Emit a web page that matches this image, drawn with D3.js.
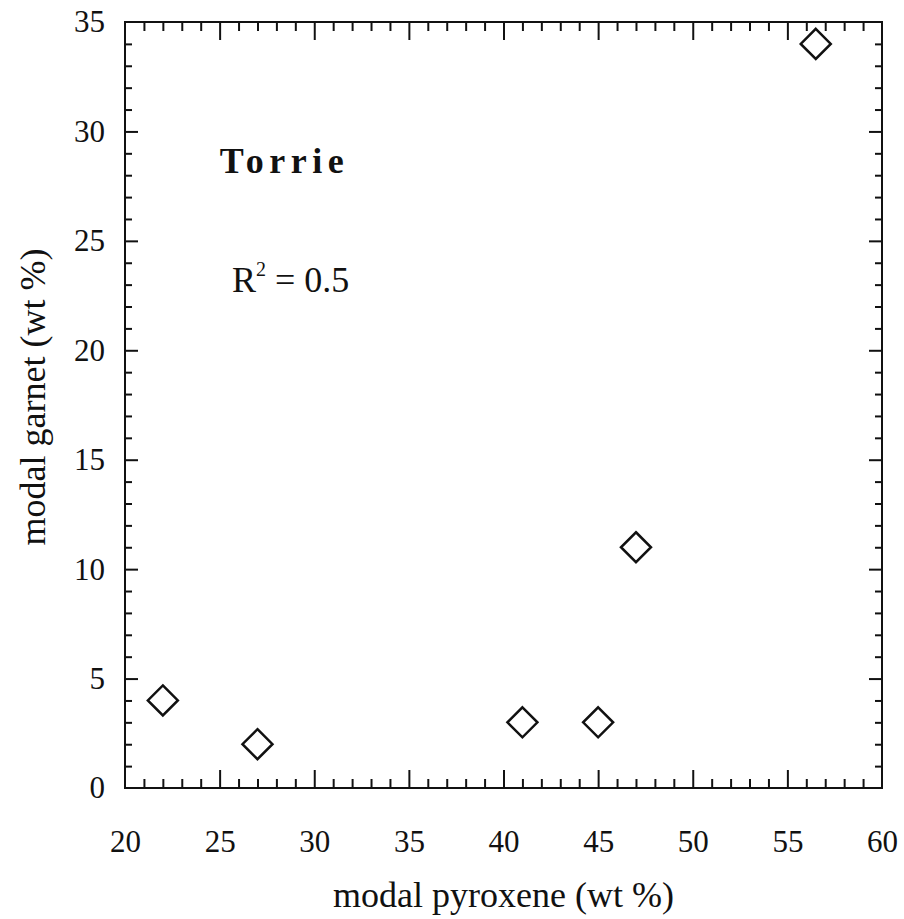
<!DOCTYPE html>
<html>
<head>
<meta charset="utf-8">
<script src="https://cdn.jsdelivr.net/npm/d3@7"></script>
<style>
  html, body { margin: 0; padding: 0; background: #fff; }
  svg { display: block; }
  text, tspan { font-family: "Liberation Serif", "Times New Roman", serif; fill: #111; }
</style>
</head>
<body>
<svg id="chart" width="904" height="919"></svg>
<script>
// Modal mineralogy, Torrie samples
const pyroxene = [22, 27, 41, 45, 47, 56.5];
const garnet   = [4, 2, 3, 3, 11, 34];

const xMajorTicks = [20, 25, 30, 35, 40, 45, 50, 55, 60];
const yMajorTicks = [0, 5, 10, 15, 20, 25, 30, 35];
const xMinorTicks = d3.range(21, 60).filter(v => v % 5 !== 0);
const yMinorTicks = d3.range(1, 35).filter(v => v % 5 !== 0);

const xTitle = "modal pyroxene (wt %)";
const yTitle = "modal garnet (wt %)";
const siteLabel = "Torrie";

const svg = d3.select("#chart");
const W = 904, H = 919;
const m = { left: 125, right: 22, top: 22, bottom: 131 };
const x = d3.scaleLinear().domain([20, 60]).range([m.left, W - m.right]);
const y = d3.scaleLinear().domain([0, 35]).range([H - m.bottom, m.top]);

svg.append("rect").attr("width", W).attr("height", H).attr("fill", "#fff");

const fontSize = 31;
const noLabel = () => "";

function styleAxis(g) {
  g.attr("font-family", null).attr("font-size", null);
  g.select(".domain").remove();
  g.selectAll(".tick line").attr("stroke", "#111").attr("stroke-width", 2);
  g.selectAll(".tick text").style("font-size", fontSize + "px").attr("fill", "#111");
}

// bottom axis with labels, ticks pointing inward
svg.append("g").attr("transform", `translate(0,${y(0)})`)
  .call(d3.axisBottom(x).tickValues(xMajorTicks.slice(1, -1)).tickSize(-18).tickFormat(noLabel))
  .call(styleAxis);
svg.append("g").attr("transform", `translate(0,${y(0)})`)
  .call(d3.axisBottom(x).tickValues(xMinorTicks).tickSize(-9).tickFormat(noLabel))
  .call(styleAxis);
svg.append("g").attr("transform", `translate(0,${y(0)})`)
  .call(d3.axisBottom(x).tickValues(xMajorTicks).tickSize(0).tickPadding(42))
  .call(styleAxis);

// top axis ticks
svg.append("g").attr("transform", `translate(0,${y(35)})`)
  .call(d3.axisTop(x).tickValues(xMajorTicks.slice(1, -1)).tickSize(-18).tickFormat(noLabel))
  .call(styleAxis);
svg.append("g").attr("transform", `translate(0,${y(35)})`)
  .call(d3.axisTop(x).tickValues(xMinorTicks).tickSize(-9).tickFormat(noLabel))
  .call(styleAxis);

// left axis
svg.append("g").attr("transform", `translate(${x(20)},0)`)
  .call(d3.axisLeft(y).tickValues(yMajorTicks.slice(1, -1)).tickSize(-13).tickFormat(noLabel))
  .call(styleAxis);
svg.append("g").attr("transform", `translate(${x(20)},0)`)
  .call(d3.axisLeft(y).tickValues(yMinorTicks).tickSize(-7).tickFormat(noLabel))
  .call(styleAxis);
svg.append("g").attr("transform", `translate(${x(20)},0)`)
  .call(d3.axisLeft(y).tickValues(yMajorTicks).tickSize(0).tickPadding(20))
  .call(styleAxis);

// right axis ticks
svg.append("g").attr("transform", `translate(${x(60)},0)`)
  .call(d3.axisRight(y).tickValues(yMajorTicks.slice(1, -1)).tickSize(-13).tickFormat(noLabel))
  .call(styleAxis);
svg.append("g").attr("transform", `translate(${x(60)},0)`)
  .call(d3.axisRight(y).tickValues(yMinorTicks).tickSize(-7).tickFormat(noLabel))
  .call(styleAxis);

// frame
svg.append("rect")
  .attr("x", x(20)).attr("y", y(35))
  .attr("width", x(60) - x(20)).attr("height", y(0) - y(35))
  .attr("fill", "none").attr("stroke", "#111").attr("stroke-width", 2);

// axis titles
svg.append("text")
  .attr("x", (x(20) + x(60)) / 2).attr("y", 907)
  .attr("text-anchor", "middle").style("font-size", "36px")
  .text(xTitle);
svg.append("text")
  .attr("transform", `translate(45,397) rotate(-90)`)
  .attr("text-anchor", "middle").style("font-size", "36px")
  .text(yTitle);

// annotations
svg.append("text")
  .attr("x", x(25.0)).attr("y", y(28.1))
  .style("font-size", "36px").style("font-weight", "bold").style("letter-spacing", "5.5px")
  .text(siteLabel);
const r2 = svg.append("text")
  .attr("x", x(25.65)).attr("y", y(22.66))
  .style("font-size", "36px");
r2.append("tspan").text("R");
r2.append("tspan").attr("dy", -16).style("font-size", "20px").text("2");
r2.append("tspan").attr("dy", 16).text(" = 0.5");

// data points: open diamonds
const half = 15;
const diamond = `M0,${-half}L${half},0L0,${half}L${-half},0Z`;
svg.append("g").selectAll("path")
  .data(d3.zip(pyroxene, garnet))
  .join("path")
  .attr("transform", d => `translate(${x(d[0])},${y(d[1])})`)
  .attr("d", diamond)
  .attr("fill", "none")
  .attr("stroke", "#111")
  .attr("stroke-width", 2.5);
</script>
</body>
</html>
